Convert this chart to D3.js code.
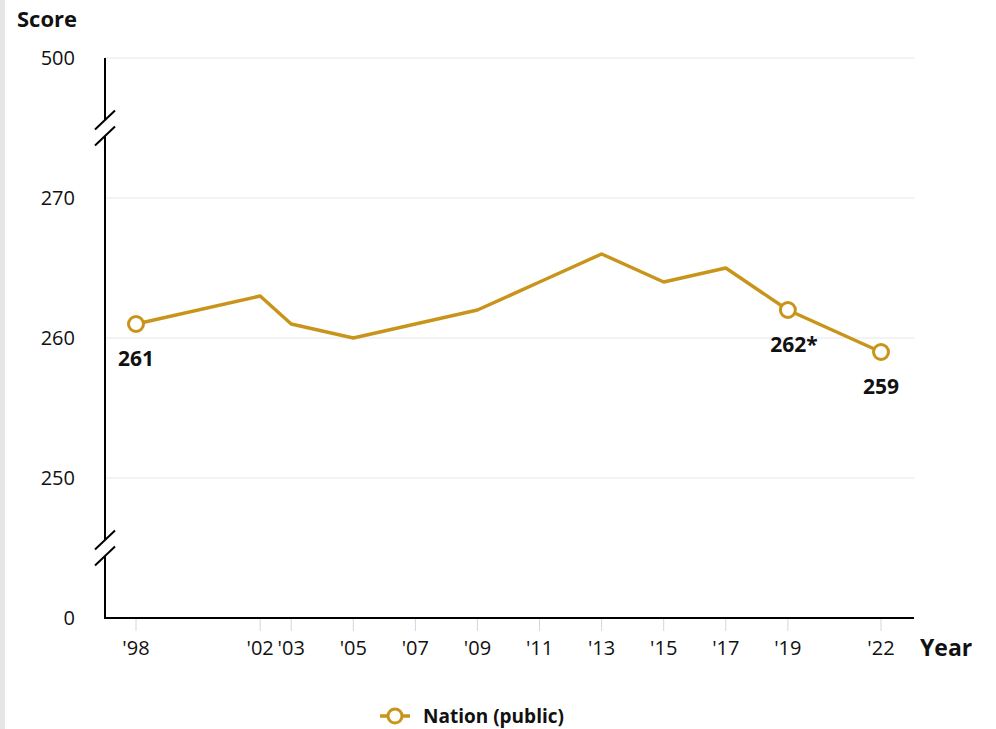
<!DOCTYPE html>
<html lang="en">
<head>
<meta charset="utf-8">
<title>Nation (public) score by year</title>
<script src="https://cdn.jsdelivr.net/npm/d3@7"></script>
<style>
body { margin: 0; font-family: "Open Sans", "Noto Sans", sans-serif; background: #fff; }
#vis { position: relative; }
.strip { position: absolute; left: 0; top: 0; width: 5px; height: 729px; background: #e6e6e6; }
</style>
</head>
<body>
<div id="vis"><div class="strip"></div></div>
<script>

/* Data */
var years = [1998, 2002, 2003, 2005, 2007, 2009, 2011, 2013, 2015, 2017, 2019, 2022];
var scores = [261, 263, 261, 260, 261, 262, 264, 266, 264, 265, 262, 259];
var yearLabels = ["'98", "'02", "'03", "'05", "'07", "'09", "'11", "'13", "'15", "'17", "'19", "'22"];
var scoreTicks = [0, 250, 260, 270, 500];
var labelled = [{ i: 0, text: '261' }, { i: 10, text: '262*' }, { i: 11, text: '259' }];
var seriesName = 'Nation (public)';

var gold = '#c8951a';

var width = 996, height = 729;
var plot = { left: 105, right: 914, top: 58, bottom: 618 };

var svg = d3.select('#vis').append('svg')
	.attr('width', width)
	.attr('height', height)
	.style('display', 'block');

/* Scales: broken axis, 0 | 250-270 | 500 */
var x = d3.scaleLinear().domain([1998, 2022]).range([136, 881]);
var y = d3.scaleLinear()
	.domain([0, 250, 270, 500])
	.range([plot.bottom, 478, 198, plot.top]);

/* Grid */
svg.append('g')
	.selectAll('line')
	.data(scoreTicks.filter(function(d) { return d > 0; }))
	.enter().append('line')
		.attr('x1', plot.left).attr('x2', plot.right)
		.attr('y1', function(d) { return y(d); })
		.attr('y2', function(d) { return y(d); })
		.attr('stroke', '#e6e6e6')
		.attr('stroke-width', 1);

/* Y axis labels */
svg.append('g')
	.selectAll('text')
	.data(scoreTicks)
	.enter().append('text')
		.attr('x', plot.left - 30)
		.attr('y', function(d) { return y(d); })
		.attr('dy', '0.35em')
		.attr('text-anchor', 'end')
		.attr('font-size', 20)
		.attr('fill', '#111')
		.text(function(d) { return d; });

svg.append('text')
	.attr('x', 17).attr('y', 27)
	.attr('font-size', 22).attr('font-weight', 700)
	.attr('fill', '#111')
	.text('Score');

/* Y axis line with breaks */
var breaks = [(y(0) + y(250)) / 2, (y(270) + y(500)) / 2];
var gap = 8;
var segs = [
	[plot.top, breaks[1] - gap],
	[breaks[1] + gap, breaks[0] - gap],
	[breaks[0] + gap, plot.bottom]
];
svg.append('g')
	.selectAll('line')
	.data(segs)
	.enter().append('line')
		.attr('x1', plot.left).attr('x2', plot.left)
		.attr('y1', function(d) { return d[0]; })
		.attr('y2', function(d) { return d[1]; })
		.attr('stroke', '#000')
		.attr('stroke-width', 2);

var slashes = [];
breaks.forEach(function(b) {
	slashes.push(b - gap, b + gap);
});
svg.append('g')
	.selectAll('line')
	.data(slashes)
	.enter().append('line')
		.attr('x1', plot.left - 10).attr('x2', plot.left + 10)
		.attr('y1', function(d) { return d + 9.5; })
		.attr('y2', function(d) { return d - 9.5; })
		.attr('stroke', '#000')
		.attr('stroke-width', 2);

/* X axis */
svg.append('g')
	.selectAll('line')
	.data(years)
	.enter().append('line')
		.attr('x1', function(d) { return x(d); })
		.attr('x2', function(d) { return x(d); })
		.attr('y1', plot.bottom + 1).attr('y2', plot.bottom + 13)
		.attr('stroke', '#ccd6eb')
		.attr('stroke-width', 1);

svg.append('line')
	.attr('x1', plot.left - 1).attr('x2', plot.right)
	.attr('y1', plot.bottom).attr('y2', plot.bottom)
	.attr('stroke', '#000')
	.attr('stroke-width', 2);

svg.append('g')
	.selectAll('text')
	.data(years)
	.enter().append('text')
		.attr('x', function(d) { return x(d); })
		.attr('y', plot.bottom + 37)
		.attr('text-anchor', 'middle')
		.attr('font-size', 20)
		.attr('fill', '#111')
		.text(function(d, i) { return yearLabels[i]; });

svg.append('text')
	.attr('x', 920).attr('y', plot.bottom + 38)
	.attr('font-size', 23).attr('font-weight', 700)
	.attr('fill', '#111')
	.text('Year');

/* Series */
var pts = years.map(function(d, i) { return { year: d, score: scores[i] }; });

var line = d3.line()
	.x(function(d) { return x(d.year); })
	.y(function(d) { return y(d.score); });

svg.append('path')
	.datum(pts)
	.attr('d', line)
	.attr('fill', 'none')
	.attr('stroke', gold)
	.attr('stroke-width', 3.5)
	.attr('stroke-linejoin', 'round');

svg.append('g')
	.selectAll('circle')
	.data(labelled)
	.enter().append('circle')
		.attr('cx', function(d) { return x(pts[d.i].year); })
		.attr('cy', function(d) { return y(pts[d.i].score); })
		.attr('r', 7.5)
		.attr('fill', '#fff')
		.attr('stroke', gold)
		.attr('stroke-width', 3);

svg.append('g')
	.selectAll('text')
	.data(labelled)
	.enter().append('text')
		.attr('x', function(d) { return x(pts[d.i].year) + (d.text.indexOf('*') > -1 ? 6 : 0); })
		.attr('y', function(d) { return y(pts[d.i].score) + 42; })
		.attr('text-anchor', 'middle')
		.attr('font-size', 21).attr('font-weight', 700)
		.attr('fill', '#111')
		.text(function(d) { return d.text; });

/* Legend */
var legend = svg.append('g').attr('transform', 'translate(380, 716)');
legend.append('line')
	.attr('x1', 0).attr('x2', 30)
	.attr('stroke', gold).attr('stroke-width', 3.5);
legend.append('circle')
	.attr('cx', 15).attr('r', 7)
	.attr('fill', '#fff')
	.attr('stroke', gold).attr('stroke-width', 3);
legend.append('text')
	.attr('x', 43).attr('dy', '0.35em')
	.attr('font-size', 19).attr('font-weight', 700)
	.attr('fill', '#111')
	.text(seriesName);

</script>
</body>
</html>
